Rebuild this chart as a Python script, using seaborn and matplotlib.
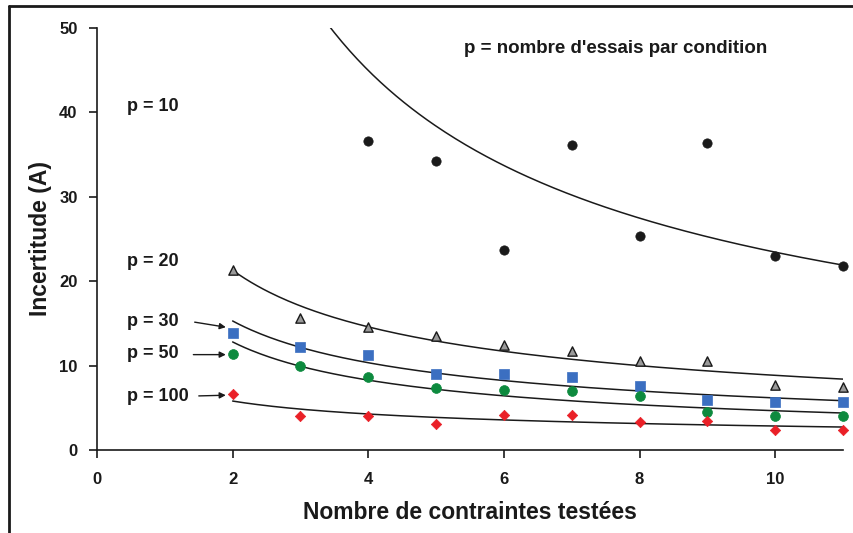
import numpy as np
import pandas as pd
import matplotlib
matplotlib.use("Agg")
import matplotlib.pyplot as plt
import seaborn as sns

# ---- data ----
n_constraints = [2, 3, 4, 5, 6, 7, 8, 9, 10, 11]
p10_x = [4, 5, 6, 7, 8, 9, 10, 11]
p10_y = [36.6, 34.3, 23.7, 36.1, 25.3, 36.4, 23.0, 21.8]
p20_y = [21.3, 15.6, 14.6, 13.5, 12.4, 11.7, 10.5, 10.5, 7.7, 7.5]
p30_y = [13.9, 12.2, 11.3, 9.0, 9.0, 8.7, 7.6, 5.9, 5.7, 5.65]
p50_y = [11.4, 10.0, 8.7, 7.4, 7.07, 7.0, 6.4, 4.5, 4.07, 4.07]
p100_y = [6.6, 4.07, 4.03, 3.04, 4.2, 4.2, 3.36, 3.44, 2.37, 2.37]

# fitted curves y = a * x^-b (parameters)
curve_a = {"10": 120.5, "20": 31.1, "30": 22.6, "50": 19.8, "100": 7.89}
curve_b = {"10": 0.711, "20": 0.546, "30": 0.564, "50": 0.629, "100": 0.444}
curve_start = {"10": 3.42, "20": 2.0, "30": 2.0, "50": 2.0, "100": 2.0}

label_text = ["p = 10", "p = 20", "p = 30", "p = 50", "p = 100"]
label_y = [40.7, 22.3, 15.2, 11.4, 6.3]
x_ticks = [0, 2, 4, 6, 8, 10]
y_ticks = [0, 10, 20, 30, 40, 50]

sns.set_theme(style="ticks")
plt.rcParams["font.family"] = ["Liberation Sans", "DejaVu Sans"]
plt.rcParams["font.weight"] = "bold"

fig = plt.figure(figsize=(8.54, 5.33), dpi=100)
ax = fig.add_axes([97 / 854, 1 - 450 / 533, (843 - 97) / 854, (450 - 28) / 533])

# curves
for key in ["10", "20", "30", "50", "100"]:
    xs = np.linspace(curve_start[key], 11, 200)
    ys = curve_a[key] * xs ** (-curve_b[key])
    sns.lineplot(x=xs, y=ys, ax=ax, color="#1a1a1a", lw=1.1, clip_on=True)

# markers
sns.scatterplot(x=p10_x, y=p10_y, ax=ax, marker="o", s=45, color="#1a1a1a",
                edgecolor="#1a1a1a", linewidth=0.5, clip_on=False, zorder=5)
sns.scatterplot(x=n_constraints, y=p20_y, ax=ax, marker="^", s=45, color="#9a9a9a",
                edgecolor="#1a1a1a", linewidth=1.0, clip_on=False, zorder=5)
sns.scatterplot(x=n_constraints, y=p30_y, ax=ax, marker="s", s=45, color="#3b6fc1",
                edgecolor="#3b6fc1", linewidth=0.5, clip_on=False, zorder=5)
sns.scatterplot(x=n_constraints, y=p50_y, ax=ax, marker="o", s=50, color="#0d8a3e",
                edgecolor="#0d8a3e", linewidth=0.5, clip_on=False, zorder=5)
sns.scatterplot(x=n_constraints, y=p100_y, ax=ax, marker="D", s=28, color="#ea2027",
                edgecolor="#ea2027", linewidth=0.5, clip_on=False, zorder=5)

# labels
for t, yv in zip(label_text, label_y):
    ax.text(0.44, yv, t, fontsize=13, fontweight="bold", color="#1a1a1a",
            ha="left", va="center")

# arrows
arrow_kw = dict(arrowstyle="-|>", color="#1a1a1a", lw=1.0, mutation_scale=9)
ax.annotate("", xy=(1.94, 14.5), xytext=(1.40, 15.2), arrowprops=arrow_kw)
ax.annotate("", xy=(1.94, 11.3), xytext=(1.38, 11.3), arrowprops=arrow_kw)
ax.annotate("", xy=(1.94, 6.5), xytext=(1.46, 6.4), arrowprops=arrow_kw)

ax.text(7.64, 47.6, "p = nombre d'essais par condition", fontsize=13.5,
        fontweight="bold", color="#1a1a1a", ha="center", va="center")

ax.set_xlim(0, 11)
ax.set_ylim(0, 50)
ax.set_xticks(x_ticks)
ax.set_yticks(y_ticks)
ax.tick_params(axis="both", direction="out", length=6, width=1.2, color="#1a1a1a",
               labelsize=12, labelcolor="#1a1a1a")
ax.tick_params(axis="x", pad=10)
ax.tick_params(axis="y", pad=8)
for lab in ax.get_xticklabels() + ax.get_yticklabels():
    lab.set_fontweight("bold")
sns.despine(ax=ax)
for s in ["left", "bottom"]:
    ax.spines[s].set_linewidth(1.2)
    ax.spines[s].set_color("#1a1a1a")

ax.set_xlabel("Nombre de contraintes testées", fontsize=16.5, fontweight="bold",
              color="#1a1a1a", labelpad=10)
ax.set_ylabel("Incertitude (A)", fontsize=16.5, fontweight="bold",
              color="#1a1a1a", labelpad=5)

# outer frame (top and left edges of the original figure box)
fig.add_artist(plt.Line2D([9.5 / 854, 1], [1 - 5.5 / 533, 1 - 5.5 / 533],
                          transform=fig.transFigure, color="#1a1a1a", lw=2))
fig.add_artist(plt.Line2D([9.5 / 854, 9.5 / 854], [0, 1 - 5.5 / 533],
                          transform=fig.transFigure, color="#1a1a1a", lw=2))

fig.savefig("out.png", dpi=100)
